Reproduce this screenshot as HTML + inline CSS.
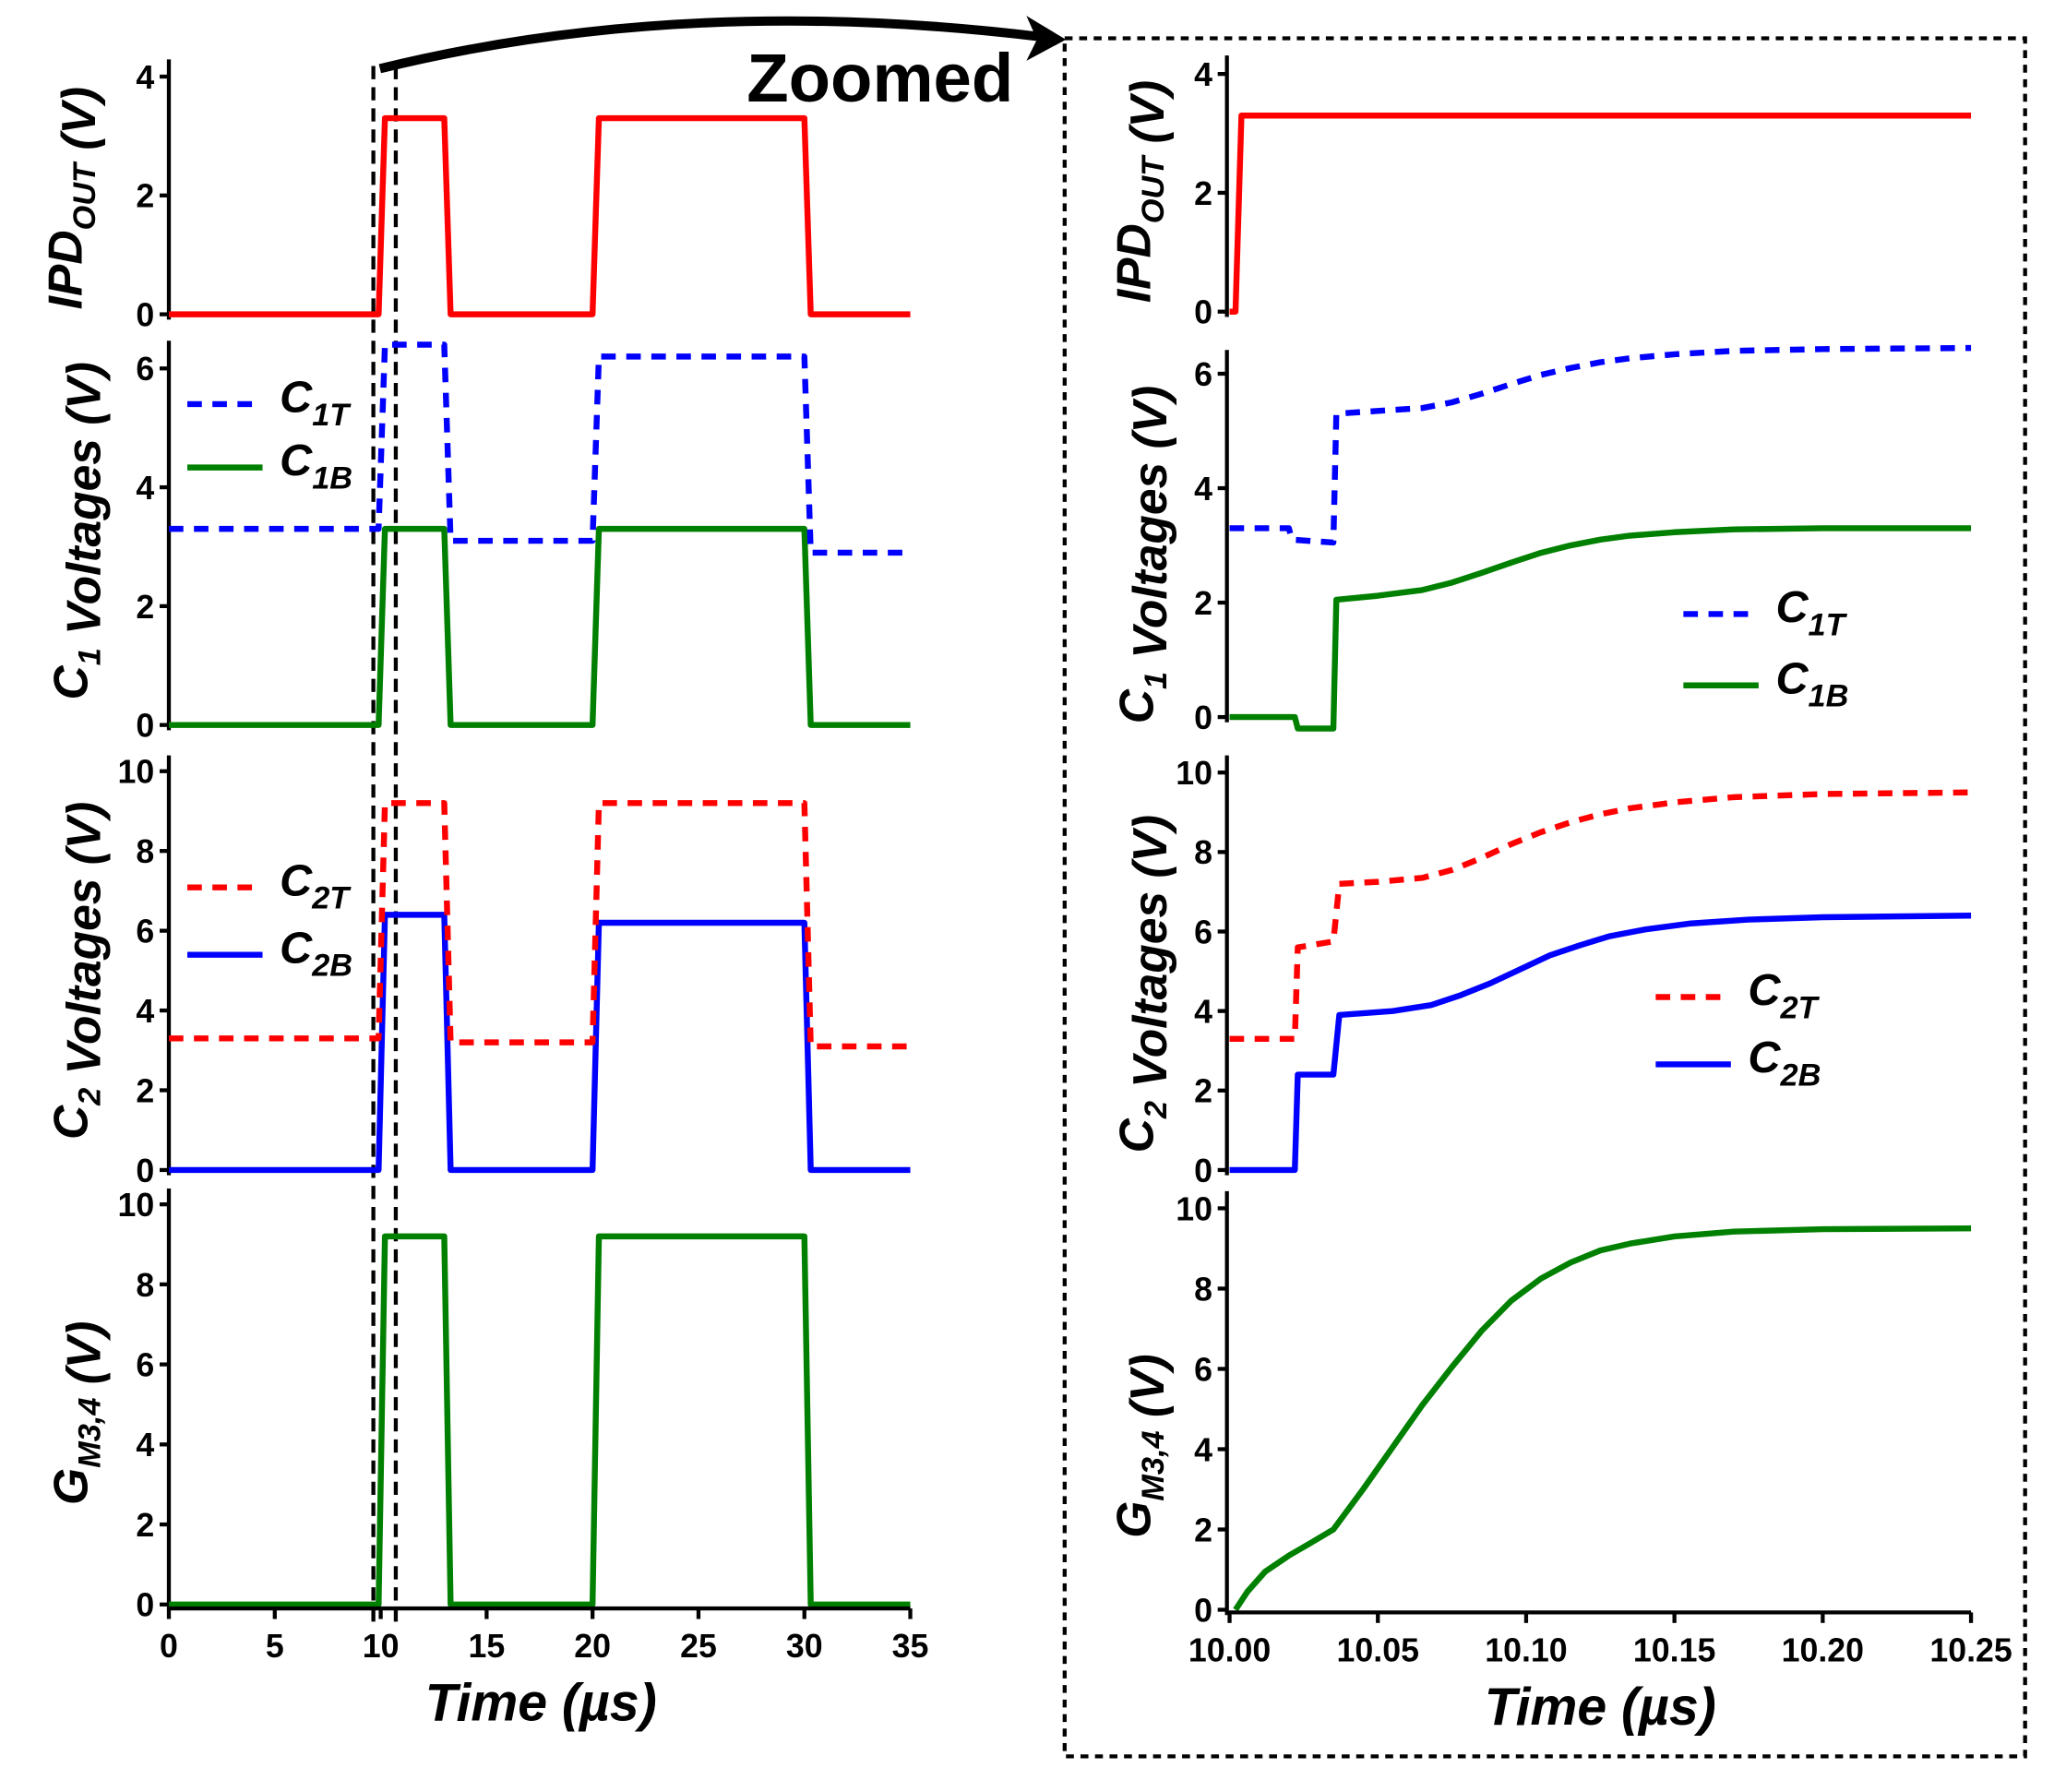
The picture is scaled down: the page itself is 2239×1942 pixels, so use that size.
<!DOCTYPE html>
<html><head><meta charset="utf-8"><style>
html,body{margin:0;padding:0;background:#fff;}
svg{display:block;}
text{font-family:"Liberation Sans Narrow","Liberation Sans",sans-serif;font-weight:bold;fill:#000;}
.tick{font-size:25px;}
.ylab{font-size:36px;font-style:italic;font-family:"Liberation Sans",sans-serif;}
.xlab{font-size:40px;font-style:italic;font-family:"Liberation Sans",sans-serif;}
.leg{font-size:34px;font-style:italic;font-family:"Liberation Sans",sans-serif;}
</style></head><body>
<svg id="chart" width="2239" height="1942" viewBox="0 0 1566 1357" preserveAspectRatio="none" xmlns="http://www.w3.org/2000/svg">
<g id="deco">
<rect x="807" y="29" width="728" height="1301" fill="none" stroke="#000" stroke-width="3" stroke-dasharray="6,5"/>
<line x1="283" y1="50" x2="283" y2="1232" stroke="#000" stroke-width="3" stroke-dasharray="10,6"/>
<line x1="300" y1="50" x2="300" y2="1232" stroke="#000" stroke-width="3" stroke-dasharray="10,6"/>
<path d="M288 52 Q520 -5 790 28" fill="none" stroke="#000" stroke-width="7"/>
<polygon points="808,30 778,12 786,30 778,46" fill="#000"/>
<text x="566" y="77" style="font-size:52px;font-family:'Liberation Sans',sans-serif;">Zoomed</text>
</g>
<g id="plots"></g>
</svg>
<script>
// ---------- data ----------
const leftTimes = [0, 9.9, 10.2, 13.0, 13.3, 20.0, 20.3, 30.0, 30.3, 35];
const leftIPD  = [0, 0, 3.3, 3.3, 0, 0, 3.3, 3.3, 0, 0];
const leftC1T  = [3.3, 3.3, 6.4, 6.4, 3.1, 3.1, 6.2, 6.2, 2.9, 2.9];
const leftC1B  = [0, 0, 3.3, 3.3, 0, 0, 3.3, 3.3, 0, 0];
const leftC2T  = [3.3, 3.3, 9.2, 9.2, 3.2, 3.2, 9.2, 9.2, 3.1, 3.1];
const leftC2B  = [0, 0, 6.4, 6.4, 0, 0, 6.2, 6.2, 0, 0];
const leftG    = [0, 0, 9.2, 9.2, 0, 0, 9.2, 9.2, 0, 0];

const zIPDt = [10.0, 10.002, 10.004, 10.25];
const zIPDv = [0, 0, 3.3, 3.3];
const zC1Tt = [10.0, 10.02, 10.021, 10.035, 10.036, 10.05, 10.065, 10.075, 10.085, 10.095, 10.105, 10.115, 10.125, 10.135, 10.15, 10.17, 10.2, 10.25];
const zC1Tv = [3.3, 3.3, 3.1, 3.05, 5.3, 5.35, 5.4, 5.5, 5.65, 5.82, 5.98, 6.1, 6.2, 6.27, 6.34, 6.4, 6.43, 6.45];
const zC1Bt = [10.0, 10.022, 10.023, 10.035, 10.036, 10.05, 10.065, 10.075, 10.085, 10.095, 10.105, 10.115, 10.125, 10.135, 10.15, 10.17, 10.2, 10.25];
const zC1Bv = [0, 0, -0.2, -0.2, 2.05, 2.12, 2.22, 2.35, 2.52, 2.7, 2.87, 3.0, 3.1, 3.17, 3.23, 3.28, 3.3, 3.3];
const zC2Tt = [10.0, 10.022, 10.023, 10.035, 10.037, 10.05, 10.065, 10.075, 10.085, 10.095, 10.105, 10.115, 10.125, 10.135, 10.15, 10.17, 10.2, 10.25];
const zC2Tv = [3.3, 3.3, 5.6, 5.75, 7.2, 7.25, 7.35, 7.55, 7.85, 8.2, 8.5, 8.75, 8.95, 9.1, 9.25, 9.38, 9.46, 9.5];
const zC2Bt = [10.0, 10.022, 10.023, 10.035, 10.037, 10.055, 10.068, 10.078, 10.088, 10.098, 10.108, 10.118, 10.128, 10.14, 10.155, 10.175, 10.2, 10.25];
const zC2Bv = [0, 0, 2.4, 2.4, 3.9, 4.0, 4.15, 4.4, 4.7, 5.05, 5.4, 5.65, 5.88, 6.05, 6.2, 6.3, 6.36, 6.4];
const zGt = [10.002, 10.006, 10.012, 10.02, 10.027, 10.035, 10.045, 10.055, 10.065, 10.075, 10.085, 10.095, 10.105, 10.115, 10.125, 10.135, 10.15, 10.17, 10.2, 10.25];
const zGv = [0, 0.45, 0.95, 1.35, 1.65, 2.0, 3.0, 4.05, 5.1, 6.05, 6.95, 7.7, 8.25, 8.65, 8.95, 9.12, 9.3, 9.42, 9.48, 9.5];

const leftXTicks = [0, 5, 10, 15, 20, 25, 30, 35];
const zoomXTicks = [10.00, 10.05, 10.10, 10.15, 10.20, 10.25];

const NS = "http://www.w3.org/2000/svg";
const root = document.getElementById('plots');
function mk(tag, attrs, parent) {
  const e = document.createElementNS(NS, tag);
  for (const k in attrs) e.setAttribute(k, attrs[k]);
  (parent || root).appendChild(e);
  return e;
}
function lin(d0, d1, r0, r1) { return v => r0 + (v - d0) * (r1 - r0) / (d1 - d0); }

function panel(name, xs, ax, yDom, yPix, yTicks, axTop, yLabel, lx, ly, series, legend) {
  const g = mk('g', {});
  
  
  const y = lin(yDom[0], yDom[1], yPix[0], yPix[1]);
  const axis = mk('line', {x1: ax.x0, y1: axTop, x2: ax.x0, y2: yPix[0] + 4, stroke: '#000', 'stroke-width': 3}, g);
  
  
  yTicks.forEach(t => {
    const tl = mk('line', {x1: ax.x0 - 7, x2: ax.x0, y1: y(t), y2: y(t), stroke: '#000', 'stroke-width': 3}, g);
    
    
    const tx = mk('text', {x: ax.x0 - 11, y: y(t) + 9, 'text-anchor': 'end', class: 'tick'}, g);
    tx.textContent = t;
    
    
  });
  const lab = mk('text', {x: 0, y: 0, class: 'ylab', 'text-anchor': 'middle', transform: `translate(${lx},${ly}) rotate(-90)`}, g);
  lab.innerHTML = yLabel;
  
  
  series.forEach(s => {
    const pts = s.t.map((t, i) => `${xs(t).toFixed(2)},${y(s.v[i]).toFixed(2)}`).join(' ');
    const pl = mk('polyline', {points: pts, fill: 'none', stroke: s.c, 'stroke-width': 4.5, 'stroke-linejoin': 'round', 'stroke-dasharray': s.dash ? '11,8' : 'none'}, g);
    
    
  });
  if (legend) legend.forEach(l => {
    const ll = mk('line', {x1: l.x, x2: l.x + 57, y1: l.y, y2: l.y, stroke: l.c, 'stroke-width': 4.5, 'stroke-dasharray': l.dash ? '11,8' : 'none'}, g);
    
    
    const lt = mk('text', {x: l.x + 70, y: l.y + 6, class: 'leg'}, g);
    lt.innerHTML = l.label;
    
    
  });
}

function xaxis(name, xs, x0, x1, yy, ticks, fmt, titleX) {
  const g = mk('g', {});
  
  
  const l = mk('line', {x1: x0, x2: x1, y1: yy, y2: yy, stroke: '#000', 'stroke-width': 3}, g);
  
  
  ticks.forEach(t => {
    const tl = mk('line', {x1: xs(t), x2: xs(t), y1: yy, y2: yy + 8, stroke: '#000', 'stroke-width': 3}, g);
    
    
    const tx = mk('text', {x: xs(t), y: yy + 37, 'text-anchor': 'middle', class: 'tick'}, g);
    tx.textContent = fmt(t);
    
    
  });
  const tt = mk('text', {x: titleX, y: yy + 85, 'text-anchor': 'middle', class: 'xlab'}, g);
  tt.textContent = 'Time (µs)';
  
  
}

const sub = s => `<tspan dy="10" style="font-size:24px">${s}</tspan><tspan dy="-10"></tspan>`;
const ylabC1 = `C${sub('1')} Voltages (V)`;
const ylabC2 = `C${sub('2')} Voltages (V)`;
const ylabIPD = `IPD${sub('OUT')} (V)`;
const ylabG = `G${sub('M3,4')} (V)`;

// left
const xl = lin(0, 35, 128, 690);
const LA = {x0: 128};
panel('left-ipd', xl, LA, [0, 4], [238, 58], [0, 2, 4], 45, ylabIPD, 62, 150,
  [{t: leftTimes, v: leftIPD, c: '#ff0000', n: 'left-ipd-line'}]);
panel('left-c1', xl, LA, [0, 6], [549, 279], [0, 2, 4, 6], 258, ylabC1, 66, 402,
  [{t: leftTimes, v: leftC1B, c: '#008000', n: 'left-c1b-line'}, {t: leftTimes, v: leftC1T, c: '#0000ff', dash: 1, n: 'left-c1t-line'}],
  [{x: 142, y: 306, c: '#0000ff', dash: 1, n: 'c1t', label: `C${sub('1T')}`}, {x: 142, y: 354, c: '#008000', n: 'c1b', label: `C${sub('1B')}`}]);
panel('left-c2', xl, LA, [0, 10], [886, 584], [0, 2, 4, 6, 8, 10], 572, ylabC2, 66, 735,
  [{t: leftTimes, v: leftC2B, c: '#0000ff', n: 'left-c2b-line'}, {t: leftTimes, v: leftC2T, c: '#ff0000', dash: 1, n: 'left-c2t-line'}],
  [{x: 142, y: 672, c: '#ff0000', dash: 1, n: 'c2t', label: `C${sub('2T')}`}, {x: 142, y: 723, c: '#0000ff', n: 'c2b', label: `C${sub('2B')}`}]);
panel('left-g', xl, LA, [0, 10], [1215, 912], [0, 2, 4, 6, 8, 10], 900, ylabG, 66, 1070,
  [{t: leftTimes, v: leftG, c: '#008000', n: 'left-g-line'}]);
xaxis('left-x-axis', xl, 128, 690, 1218, leftXTicks, t => t, 410);

// right
const xr = lin(10.0, 10.25, 932, 1494);
const RA = {x0: 930};
panel('zoom-ipd', xr, RA, [0, 4], [236, 56], [0, 2, 4], 42, ylabIPD, 872, 145,
  [{t: zIPDt, v: zIPDv, c: '#ff0000', n: 'zoom-ipd-line'}]);
panel('zoom-c1', xr, RA, [0, 6], [543, 283], [0, 2, 4, 6], 265, ylabC1, 874, 420,
  [{t: zC1Bt, v: zC1Bv, c: '#008000', n: 'zoom-c1b-line'}, {t: zC1Tt, v: zC1Tv, c: '#0000ff', dash: 1, n: 'zoom-c1t-line'}],
  [{x: 1276, y: 465, c: '#0000ff', dash: 1, n: 'zoom-c1t', label: `C${sub('1T')}`}, {x: 1276, y: 519, c: '#008000', n: 'zoom-c1b', label: `C${sub('1B')}`}]);
panel('zoom-c2', xr, RA, [0, 10], [886, 585], [0, 2, 4, 6, 8, 10], 572, ylabC2, 874, 745,
  [{t: zC2Bt, v: zC2Bv, c: '#0000ff', n: 'zoom-c2b-line'}, {t: zC2Tt, v: zC2Tv, c: '#ff0000', dash: 1, n: 'zoom-c2t-line'}],
  [{x: 1255, y: 755, c: '#ff0000', dash: 1, n: 'zoom-c2t', label: `C${sub('2T')}`}, {x: 1255, y: 806, c: '#0000ff', n: 'zoom-c2b', label: `C${sub('2B')}`}]);
panel('zoom-g', xr, RA, [0, 10], [1219, 915], [0, 2, 4, 6, 8, 10], 902, ylabG, 872, 1095,
  [{t: zGt, v: zGv, c: '#008000', n: 'zoom-g-line'}]);
xaxis('zoom-x-axis', xr, 930, 1494, 1221, zoomXTicks, t => t.toFixed(2), 1213);
</script>
</body></html>
